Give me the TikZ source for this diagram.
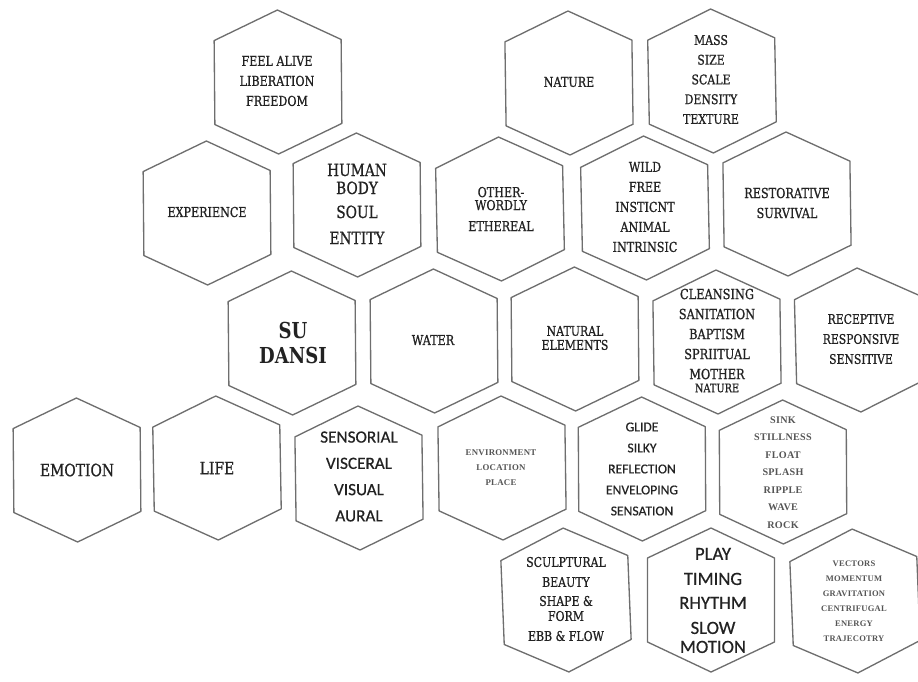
\documentclass[tikz,border=0pt]{standalone}
\usepackage{fontspec}
\newfontfamily\slab[FakeStretch=0.82,FakeBold=0.9]{DejaVu Serif}
\newfontfamily\slabb[FakeStretch=0.82]{DejaVu Serif Bold}
\newfontfamily\hsans[FakeBold=0.6]{Carlito}
\newfontfamily\tserif[LetterSpace=3]{Liberation Serif}
\definecolor{hexgray}{HTML}{6E6E6E}
\definecolor{ink}{HTML}{222222}
\definecolor{lightink}{HTML}{555555}
\newcommand{\setfs}[2]{\fontsize{#1}{#2}\selectfont}
\newcommand{\hexcell}[4]{%
  \coordinate (#1) at (#2,#3);
  \draw[hexline, rotate around={#4:(#2,#3)}] (#2,#3) ++(0,-72) -- ++(63.5,30) -- ++(0,84) -- ++(-63.5,30) -- ++(-63.5,-30) -- ++(0,-84) -- cycle;
}
\tikzset{
  hexline/.style={draw=hexgray, line width=1pt, line join=round},
  lab/.style={align=center, text=ink, inner sep=0pt},
  smalllab/.style={align=center, text=lightink, inner sep=0pt},
}
\begin{document}
\begin{tikzpicture}[x=0.75pt,y=-0.75pt]
\useasboundingbox (0,0) rectangle (918,682);
% hexagons
\hexcell{hfeel}{278}{82}{0.5}
\hexcell{hexp}{207}{213}{0.5}
\hexcell{hhuman}{357}{205}{0.5}
\hexcell{hnature}{569}{83}{0.8}
\hexcell{hmass}{712}{81}{1.1}
\hexcell{hother}{500}{209}{1.2}
\hexcell{hwild}{645}{208}{1.2}
\hexcell{hrest}{787}{204}{0.8}
\hexcell{hsu}{292}{343}{0.5}
\hexcell{hwater}{434}{341}{0.5}
\hexcell{hnat}{575}{339}{0.5}
\hexcell{hclean}{717}{342}{0.8}
\hexcell{hrecep}{859}{340}{1.5}
\hexcell{hemo}{77}{470}{0.5}
\hexcell{hlife}{217}{468}{1}
\hexcell{hsens}{359}{478}{0.8}
\hexcell{henv}{502}{468}{0.8}
\hexcell{hglide}{642}{469}{0.3}
\hexcell{hsink}{783}{472}{0.3}
\hexcell{hsculp}{566}{600}{2.3}
\hexcell{hplay}{711}{600}{0}
\hexcell{hvec}{855}{601}{2.3}
% texts
\node[lab, font={\slab\setfs{10.2}{15}}] (feel) at (277,81) {FEEL ALIVE\\LIBERATION\\FREEDOM};
\node[lab, font={\slab\setfs{10.2}{15}}] (exp) at (207,212) {EXPERIENCE};
\node[lab, font={\slab\setfs{12.6}{13.5}}] (human) at (357,204) {HUMAN\\BODY\\[4.5pt]SOUL\\[6pt]ENTITY};
\node[lab, font={\slab\setfs{10.2}{15}}] (nature) at (569,82) {NATURE};
\node[lab, font={\slab\setfs{10}{14.8}}] (mass) at (711,79.5) {MASS\\SIZE\\SCALE\\DENSITY\\TEXTURE};
\node[lab, font={\slab\setfs{10.2}{9.75}}] (other) at (501,209) {OTHER-\\WORDLY\\[6pt]ETHEREAL};
\node[lab, font={\slab\setfs{10.2}{15}}] (wild) at (645,207) {WILD\\FREE\\INSTICNT\\ANIMAL\\INTRINSIC};
\node[lab, font={\slab\setfs{10.3}{15}}] (rest) at (787,203) {RESTORATIVE\\SURVIVAL};
\node[lab, font={\slabb\setfs{16.5}{18.75}}] (su) at (293,342.5) {SU\\DANSI};
\node[lab, font={\slab\setfs{10.2}{15}}] (water) at (433,340) {WATER};
\node[lab, font={\slab\setfs{10}{10.5}}] (nat) at (575,338) {NATURAL\\ELEMENTS};
\node[lab, font={\slab\setfs{10.4}{15}}] (clean) at (717,334) {CLEANSING\\SANITATION\\BAPTISM\\SPRIITUAL\\MOTHER};
\node[lab, font={\slab\setfs{8.9}{10}}] (clean2) at (717,388) {NATURE};
\node[lab, font={\slab\setfs{9.9}{15}}] (recep) at (861,339) {RECEPTIVE\\RESPONSIVE\\SENSITIVE};
\node[lab, font={\slab\setfs{12.7}{15}}] (emo) at (77,470) {EMOTION};
\node[lab, font={\slab\setfs{12.7}{15}}] (life) at (217,468) {LIFE};
\node[lab, font={\hsans\setfs{12.9}{19.7}}] (sens) at (359,476.5) {SENSORIAL\\VISCERAL\\VISUAL\\AURAL};
\node[smalllab, font={\tserif\bfseries\setfs{6.6}{11.25}}] (env) at (501,468) {ENVIRONMENT\\LOCATION\\PLACE};
\node[lab, font={\hsans\setfs{10.2}{15.75}}] (glide) at (642,469) {GLIDE\\SILKY\\REFLECTION\\ENVELOPING\\SENSATION};
\node[smalllab, font={\tserif\bfseries\setfs{7.6}{13.1}}] (sink) at (783,472.5) {SINK\\STILLNESS\\FLOAT\\SPLASH\\RIPPLE\\WAVE\\ROCK};
\node[lab, font={\slab\setfs{10}{15}}] (sculp) at (566,599) {SCULPTURAL\\BEAUTY\\[-0.75pt]SHAPE \&\\[-3.75pt]FORM\\EBB \& FLOW};
\node[lab, font={\hsans\setfs{14}{18.75}}] (play) at (713,600.5) {PLAY\\TIMING\\[-0.75pt]RHYTHM\\SLOW\\[-4.5pt]MOTION};
\node[smalllab, font={\tserif\bfseries\setfs{6.4}{11.25}}] (vec) at (854,601.5) {VECTORS\\MOMENTUM\\GRAVITATION\\CENTRIFUGAL\\ENERGY\\TRAJECOTRY};
\end{tikzpicture}
\end{document}
